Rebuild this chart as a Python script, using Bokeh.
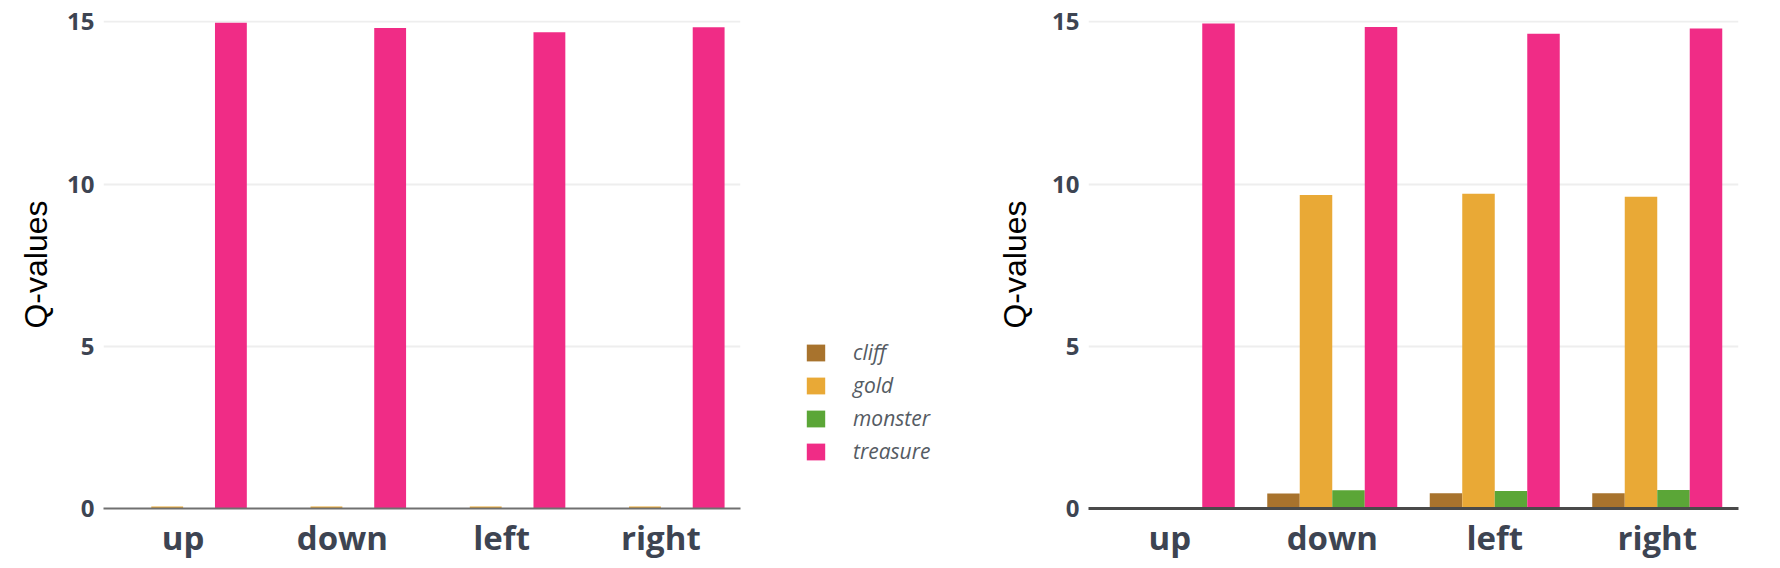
from bokeh.plotting import figure
from bokeh.models import ColumnDataSource, FactorRange, Range1d, Legend, LegendItem, FixedTicker
from bokeh.layouts import row
from bokeh.transform import dodge
from bokeh.embed import file_html
from bokeh.resources import INLINE

# ---- data ----
actions = ["up", "down", "left", "right"]
series = ["cliff", "gold", "monster", "treasure"]
colors = ["#A8732D", "#E9A936", "#5BA637", "#F02C86"]

left_cliff = [0.0, 0.0, 0.0, 0.0]
left_gold = [0.06, 0.06, 0.06, 0.06]
left_monster = [0.0, 0.0, 0.0, 0.0]
left_treasure = [14.97, 14.81, 14.68, 14.83]

right_cliff = [0.04, 0.46, 0.47, 0.47]
right_gold = [0.04, 9.66, 9.70, 9.61]
right_monster = [0.04, 0.56, 0.54, 0.57]
right_treasure = [14.95, 14.84, 14.63, 14.79]

y_ticks = [0, 5, 10, 15]
y_title = "Q-values"

offsets = [-0.3, -0.1, 0.1, 0.3]
TICK_COLOR = "#3d4452"
HEIGHT = 566
MB_TOP = 20
MB_BOTTOM = 58


def make_fig(values, width, mb_left, mb_right, label_standoff, axis_color, axis_width):
    src = ColumnDataSource(dict(action=actions, cliff=values[0], gold=values[1],
                                monster=values[2], treasure=values[3]))
    p = figure(x_range=FactorRange(*actions), y_range=Range1d(0, 15.04),
               width=width, height=HEIGHT, output_backend="svg",
               toolbar_location=None, min_border_left=mb_left,
               min_border_right=mb_right, min_border_top=MB_TOP,
               min_border_bottom=MB_BOTTOM)
    p.outline_line_color = None
    p.background_fill_color = "white"
    p.border_fill_color = "white"
    renderers = []
    for name, off, col in zip(series, offsets, colors):
        r = p.vbar(x=dodge("action", off, range=p.x_range), top=name, width=0.2,
                   bottom=0, source=src, fill_color=col, line_color=None)
        renderers.append(r)
    p.xgrid.grid_line_color = None
    p.ygrid.grid_line_color = "#eeeeee"
    p.ygrid.grid_line_width = 2
    p.ygrid.ticker = FixedTicker(ticks=y_ticks)

    p.yaxis.ticker = FixedTicker(ticks=y_ticks)
    p.yaxis.axis_line_color = None
    p.yaxis.major_tick_line_color = None
    p.yaxis.minor_tick_line_color = None
    p.yaxis.major_label_text_font = "Open Sans"
    p.yaxis.major_label_text_font_style = "bold"
    p.yaxis.major_label_text_font_size = "24px"
    p.yaxis.major_label_text_color = TICK_COLOR
    p.yaxis.major_label_standoff = 3
    p.yaxis.axis_label = y_title
    p.yaxis.axis_label_text_font = "Liberation Sans"
    p.yaxis.axis_label_text_font_style = "normal"
    p.yaxis.axis_label_text_font_size = "32px"
    p.yaxis.axis_label_text_color = "#000000"
    p.yaxis.axis_label_standoff = label_standoff

    p.xaxis.axis_line_color = axis_color
    p.xaxis.axis_line_width = axis_width
    p.xaxis.major_tick_line_color = None
    p.xaxis.minor_tick_line_color = None
    p.xaxis.major_label_text_font = "Open Sans"
    p.xaxis.major_label_text_font_style = "bold"
    p.xaxis.major_label_text_font_size = "33px"
    p.xaxis.major_label_text_color = TICK_COLOR
    p.xaxis.major_label_standoff = 0
    return p, renderers


p1, r1 = make_fig([left_cliff, left_gold, left_monster, left_treasure],
                  760, 103, 20, 10, "#707070", 2)
p2, r2 = make_fig([right_cliff, right_gold, right_monster, right_treasure],
                  818, 128, 40, 16, "#4a4a4a", 3)

# legend panel (swatches only; the dummy bar lies outside the visible range)
pl = figure(width=200, height=HEIGHT, x_range=Range1d(0, 1), y_range=Range1d(0, 1),
            output_backend="svg", toolbar_location=None,
            x_axis_location=None, y_axis_location=None,
            min_border_left=0, min_border_right=0,
            min_border_top=MB_TOP, min_border_bottom=MB_BOTTOM)
pl.outline_line_color = None
pl.xgrid.grid_line_color = None
pl.ygrid.grid_line_color = None
dummy = ColumnDataSource(dict(x=[5.0], top=[5.0]))
swatches = [pl.vbar(x="x", top="top", bottom=4.0, width=0.1, source=dummy,
                    fill_color=c, line_color=None) for c in colors]
legend = Legend(items=[LegendItem(label=s, renderers=[r]) for s, r in zip(series, swatches)],
                location=(44, 43))
legend.padding = 0
legend.margin = 0
legend.border_line_color = None
legend.background_fill_alpha = 0
legend.glyph_width = 23
legend.glyph_height = 21
legend.label_height = 21
legend.spacing = 5
legend.label_standoff = 26
legend.label_text_font = "Open Sans"
legend.label_text_font_style = "italic"
legend.label_text_font_size = "21px"
legend.label_text_color = "#555b63"
pl.add_layout(legend, "center")

layout = row(p1, pl, p2)
open("out.html", "w").write(file_html(layout, INLINE))
